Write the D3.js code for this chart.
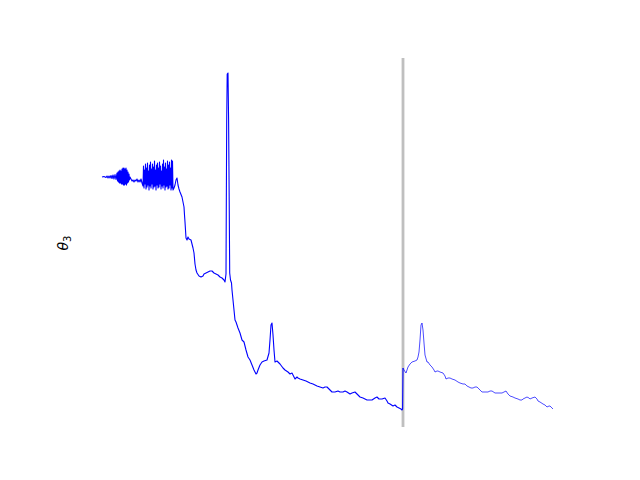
<!DOCTYPE html>
<html><head><meta charset="utf-8">
<script src="https://cdn.jsdelivr.net/npm/d3@7"></script>
<style>body{margin:0;background:#fff}svg{display:block}</style>
</head><body>
<script>
// Series A (before the marker), step index and theta_3 value
const stepA = [0,2,4,5,6,7,8,9,10,11,12,13,14,15,15.5,16,16.5,17,17.5,18,18.5,19,19.5,20,20.5,21,21.5,22,22.5,23,23.5,24,24.5,25,25.5,26,26.5,27,27.5,28,29,30,31,32,33,34,35,36,37,38,39,40,
41,41.5,42,42.5,43,43.5,44,44.5,45,45.5,46,46.5,47,47.5,48,48.5,49,49.5,50,50.5,51,51.5,52,52.5,53,53.5,54,54.5,55,55.5,56,56.5,57,57.5,58,58.5,59,59.5,60,60.5,61,61.5,62,62.5,63,63.5,64,64.5,65,65.5,66,66.5,67,67.5,68,68.5,69,69.5,70,70.5,71,
72,73,74,75,76,77,78,80,81,82,82.5,83,84,85,86,87,89,90,91,92,93,94,95,97,99,101,102,104,106,108,110,112,114,116,118,120,122,123,124,124.7,125.2,126,126.6,127.2,127.7,128.5,129.5,130,131,132,133,134,136,138,140,142,144,146,148,150,152,154,155,156,158,160,162,165,167,168,169,170,171,172,173,175,176,178,181,183,186,188,190,192,193,195,196,198,201,204,208,211,215,218,221,223,225,227,230,233,236,238,241,243,245,248,250,253,255,258,261,265,268,270,273,275,277,280,283,285,286,288,291,293,295,297,299,300,300.6,301];
const thetaA = [2.53,2.535,2.525,2.54,2.52,2.54,2.52,2.545,2.515,2.55,2.51,2.555,2.505,2.57,2.49,2.58,2.48,2.59,2.47,2.60,2.47,2.59,2.46,2.61,2.46,2.62,2.45,2.62,2.45,2.61,2.46,2.62,2.45,2.60,2.47,2.58,2.48,2.56,2.50,2.53,2.51,2.49,2.50,2.48,2.50,2.49,2.51,2.48,2.50,2.48,2.51,2.47,
2.44,2.64,2.42,2.60,2.46,2.66,2.41,2.62,2.43,2.67,2.45,2.59,2.40,2.65,2.44,2.68,2.42,2.61,2.46,2.66,2.41,2.63,2.43,2.69,2.44,2.60,2.40,2.65,2.45,2.67,2.42,2.62,2.43,2.68,2.46,2.64,2.41,2.59,2.44,2.66,2.42,2.70,2.45,2.63,2.40,2.67,2.43,2.61,2.44,2.69,2.41,2.65,2.42,2.68,2.45,2.62,2.40,2.70,2.42,2.69,2.40,
2.42,2.45,2.50,2.52,2.45,2.41,2.38,2.33,2.28,2.23,2.15,2.08,1.92,1.90,1.93,1.91,1.90,1.86,1.82,1.77,1.66,1.60,1.57,1.54,1.53,1.54,1.56,1.57,1.58,1.59,1.59,1.57,1.56,1.55,1.53,1.52,1.50,1.48,1.56,3.10,3.56,3.57,3.10,2.30,1.57,1.50,1.47,1.40,1.30,1.20,1.10,1.08,1.02,0.97,0.90,0.88,0.80,0.73,0.70,0.65,0.60,0.56,0.57,0.60,0.65,0.68,0.69,0.70,0.77,0.90,1.05,1.07,0.95,0.80,0.68,0.69,0.68,0.66,0.62,0.60,0.58,0.56,0.57,0.53,0.51,0.53,0.52,0.51,0.50,0.49,0.47,0.46,0.44,0.43,0.42,0.43,0.43,0.41,0.38,0.38,0.39,0.38,0.38,0.39,0.38,0.36,0.37,0.38,0.36,0.33,0.32,0.30,0.30,0.30,0.32,0.33,0.31,0.31,0.32,0.29,0.27,0.26,0.24,0.25,0.23,0.22,0.21,0.20,0.21,0.62];

// Series B (after the marker)
const stepB = [301,302,304,306,308,310,313,315,316,317,318,319,320,321,322,323,325,326,328,330,332,333,335,336,338,341,343,344,346,348,350,353,356,358,361,363,365,367,369,371,373,375,377,380,383,386,388,390,393,395,398,400,402,404,406,408,411,413,416,418,420,421,423,425,427,428,430,433,435,436,438,441,443,445,447,448,450,451];
const thetaB = [0.62,0.60,0.57,0.63,0.66,0.68,0.69,0.70,0.73,0.78,0.90,1.05,1.07,1.00,0.87,0.75,0.68,0.68,0.65,0.63,0.60,0.58,0.59,0.59,0.58,0.57,0.54,0.51,0.52,0.52,0.51,0.50,0.48,0.47,0.46,0.46,0.44,0.43,0.42,0.42,0.43,0.43,0.41,0.38,0.38,0.38,0.39,0.39,0.37,0.37,0.37,0.37,0.38,0.39,0.36,0.34,0.33,0.32,0.31,0.30,0.30,0.31,0.32,0.33,0.32,0.31,0.32,0.33,0.31,0.29,0.28,0.26,0.25,0.23,0.24,0.24,0.22,0.21];

const markerStep = 301;
const stepDomain = [0, 451];
const thetaDomain = [0, 3.72];
const yLabel = "θ";
const yLabelSub = "3";

const W = 640, H = 480;
const svg = d3.select("body").append("svg").attr("width", W).attr("height", H);

const x = d3.scaleLinear().domain(stepDomain).range([102, 553]);
const y = d3.scaleLinear().domain(thetaDomain).range([430, 58]);

// vertical marker
svg.append("line")
  .attr("x1", x(markerStep)).attr("x2", x(markerStep))
  .attr("y1", 58).attr("y2", 427)
  .attr("stroke", "#bfbfbf").attr("stroke-width", 2.8);

const line = d3.line().x(d => x(d[0])).y(d => y(d[1]));
const dataA = stepA.map((s, i) => [s, thetaA[i]]);
const dataB = stepB.map((s, i) => [s, thetaB[i]]);

svg.append("path").datum(dataA).attr("d", line)
  .attr("fill", "none").attr("stroke", "#0000ff").attr("stroke-width", 1.1)
  .attr("stroke-linejoin", "round");
svg.append("path").datum(dataB).attr("d", line)
  .attr("fill", "none").attr("stroke", "#0000ff").attr("stroke-width", 0.7)
  .attr("stroke-linejoin", "round");

// y label
const lbl = svg.append("text")
  .attr("transform", "translate(68,243) rotate(-90)")
  .attr("text-anchor", "middle")
  .attr("font-family", "DejaVu Sans")
  .attr("font-size", 14)
  .attr("fill", "#000");
lbl.append("tspan").attr("font-style", "italic").text(yLabel);
lbl.append("tspan").attr("font-size", 10).attr("dy", 3).text(yLabelSub);
</script>
</body></html>
